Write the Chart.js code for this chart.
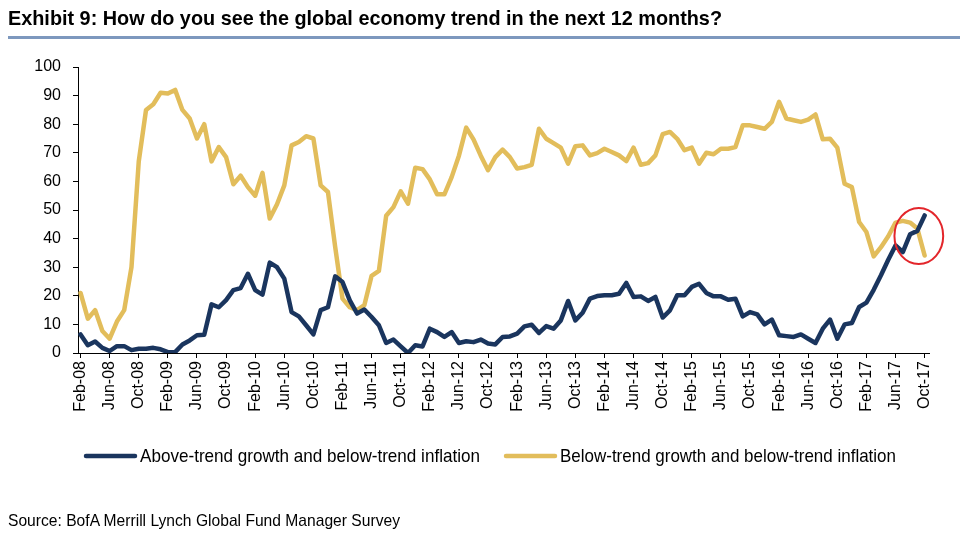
<!DOCTYPE html>
<html>
<head>
<meta charset="utf-8">
<script src="https://cdn.jsdelivr.net/npm/chart.js@4/dist/chart.umd.min.js"></script>
<style>
  html, body { margin: 0; padding: 0; background: #fff; }
  #wrap { position: relative; width: 960px; height: 543px; overflow: hidden; }
  .fit { position: absolute; left: 8px; font-family: "Liberation Sans", Arial, sans-serif; color: #000; white-space: nowrap; transform-origin: 0 50%; line-height: 1.15; }
  #title { top: 6px; font-weight: bold; font-size: 21px; }
  #rule { position: absolute; left: 8px; top: 36px; width: 952px; height: 3px; background: #7d98be; }
  #source { top: 511px; font-size: 17px; }
  #c { position: absolute; left: 0; top: 0; }
</style>
</head>
<body>
<div id="wrap">
  <canvas id="c" width="960" height="543"></canvas>
  <div id="title" class="fit" data-w="714">Exhibit 9: How do you see the global economy trend in the next 12 months?</div>
  <div id="rule"></div>
  <div id="source" class="fit" data-w="392">Source: BofA Merrill Lynch Global Fund Manager Survey</div>
</div>
<script>
const months = [
  "Feb-08","Mar-08","Apr-08","May-08","Jun-08","Jul-08","Aug-08","Sep-08","Oct-08","Nov-08","Dec-08",
  "Jan-09","Feb-09","Mar-09","Apr-09","May-09","Jun-09","Jul-09","Aug-09","Sep-09","Oct-09","Nov-09","Dec-09",
  "Jan-10","Feb-10","Mar-10","Apr-10","May-10","Jun-10","Jul-10","Aug-10","Sep-10","Oct-10","Nov-10","Dec-10",
  "Jan-11","Feb-11","Mar-11","Apr-11","May-11","Jun-11","Jul-11","Aug-11","Sep-11","Oct-11","Nov-11","Dec-11",
  "Jan-12","Feb-12","Mar-12","Apr-12","May-12","Jun-12","Jul-12","Aug-12","Sep-12","Oct-12","Nov-12","Dec-12",
  "Jan-13","Feb-13","Mar-13","Apr-13","May-13","Jun-13","Jul-13","Aug-13","Sep-13","Oct-13","Nov-13","Dec-13",
  "Jan-14","Feb-14","Mar-14","Apr-14","May-14","Jun-14","Jul-14","Aug-14","Sep-14","Oct-14","Nov-14","Dec-14",
  "Jan-15","Feb-15","Mar-15","Apr-15","May-15","Jun-15","Jul-15","Aug-15","Sep-15","Oct-15","Nov-15","Dec-15",
  "Jan-16","Feb-16","Mar-16","Apr-16","May-16","Jun-16","Jul-16","Aug-16","Sep-16","Oct-16","Nov-16","Dec-16",
  "Jan-17","Feb-17","Mar-17","Apr-17","May-17","Jun-17","Jul-17","Aug-17","Sep-17","Oct-17"
];

const tickLabels = [
  "Feb-08","Jun-08","Oct-08","Feb-09","Jun-09","Oct-09","Feb-10","Jun-10","Oct-10","Feb-11",
  "Jun-11","Oct-11","Feb-12","Jun-12","Oct-12","Feb-13","Jun-13","Oct-13","Feb-14","Jun-14",
  "Oct-14","Feb-15","Jun-15","Oct-15","Feb-16","Jun-16","Oct-16","Feb-17","Jun-17","Oct-17"
];

const yTicks = [0,10,20,30,40,50,60,70,80,90,100];

const aboveTrend = [
  6.5,2.7,4,1.8,0.7,2.4,2.4,1,1.5,1.5,1.8,
  1.3,0.3,0.3,3,4.4,6.2,6.4,17,16,18.5,22,22.7,
  27.7,22,20.4,31.6,30,26,14.3,12.8,9.7,6.5,15,16,
  26.8,24.8,18.4,13.8,15.2,12.6,9.7,3.5,4.7,2.3,0,2.7,
  2.3,8.5,7.3,5.6,7.3,3.5,4.1,3.8,4.7,3.3,3,5.6,
  5.8,6.8,9.3,9.9,7,9.4,8.5,11.4,18.2,11.4,14.1,19,
  19.9,20.2,20.2,20.7,24.5,19.6,19.8,18.2,19.6,12.4,14.9,20.2,
  20.2,23.1,24.2,21,19.8,19.8,18.6,19,12.8,14.3,13.5,10,
  11.7,6.2,5.9,5.6,6.5,5,3.5,8.5,11.7,5,10,10.5,
  16.1,17.6,22.1,27.2,32.6,37.6,35.3,41.5,42.7,48.1
];

const belowTrend = [
  21,12,15,7.7,5,11,15,30,67,85,87,
  91,90.7,92,85,82,75,80,67,72,68.5,59,62,
  58,55,63,47,52,58.6,72.6,73.8,75.8,75,58.6,56.3,
  37,19,16,15,16.7,27,28.7,48,51,56.5,52.2,64.8,
  64.3,60.7,55.5,55.5,61.5,69,78.8,74.7,69,63.9,68.5,71.1,
  68.5,64.5,65,65.8,78.4,74.9,73.4,71.8,66.2,72.3,72.6,69.1,
  69.9,71.4,70.3,69.1,67.1,71.8,65.8,66.4,69.1,76.5,77.3,74.9,
  70.9,71.8,66.2,70,69.5,71.4,71.4,72,79.6,79.6,79,78.4,
  80.8,87.8,82,81.4,80.8,81.6,83.4,74.7,74.9,71.8,59.2,58,
  45.8,42.3,33.8,37,40.8,45.6,46.2,45.6,43.5,34.1
];

const seriesNames = ["Above-trend growth and below-trend inflation", "Below-trend growth and below-trend inflation"];
const NAVY = "#1a355e";
const GOLD = "#e2bd5b";
const REG = '"Liberation Sans", Arial, sans-serif';

// fit HTML texts to the reference widths (narrow typeface look)
document.querySelectorAll('.fit').forEach(el => {
  const w = el.getBoundingClientRect().width;
  el.style.transform = 'scaleX(' + (parseFloat(el.dataset.w) / w) + ')';
});

const toXY = arr => arr.map((v, i) => ({x: i, y: v}));

const circlePlugin = {
  id: 'circle',
  afterDatasetsDraw(chart) {
    const xs = chart.scales.x, ys = chart.scales.y;
    const cx = xs.getPixelForValue(115.2);
    const cy = ys.getPixelForValue(40.9);
    const rx = (xs.getPixelForValue(1) - xs.getPixelForValue(0)) * 3.35;
    const ry = ys.getPixelForValue(0) - ys.getPixelForValue(9.8);
    const ctx = chart.ctx;
    ctx.save();
    ctx.beginPath();
    ctx.ellipse(cx, cy, rx, ry, 0, 0, Math.PI * 2);
    ctx.strokeStyle = "#e3262b";
    ctx.lineWidth = 2;
    ctx.stroke();
    ctx.restore();
  }
};

// legend drawn from the datasets, with a condensed text look
const legendPlugin = {
  id: 'narrowLegend',
  afterDraw(chart) {
    const ctx = chart.ctx;
    const sets = chart.data.datasets;
    const textW = [340, 336];
    const boxW = 53, gap = 3, spacing = 24;
    const total = sets.reduce((s, d, i) => s + boxW + gap + textW[i], 0) + spacing * (sets.length - 1);
    let x = 490 - total / 2;
    const y = 456;
    ctx.save();
    ctx.font = '19px ' + REG;
    ctx.textBaseline = 'middle';
    ctx.fillStyle = '#000';
    sets.forEach((d, i) => {
      ctx.beginPath();
      ctx.moveTo(x + 2, y);
      ctx.lineTo(x + boxW - 2, y);
      ctx.strokeStyle = d.borderColor;
      ctx.lineWidth = 4.5;
      ctx.lineCap = 'round';
      ctx.stroke();
      const tx = x + boxW + gap;
      const mw = ctx.measureText(d.label).width;
      ctx.save();
      ctx.translate(tx, y);
      ctx.scale(textW[i] / mw, 1);
      ctx.fillText(d.label, 0, 1);
      ctx.restore();
      x = tx + textW[i] + spacing;
    });
    ctx.restore();
  }
};

new Chart(document.getElementById('c'), {
  type: 'line',
  data: {
    datasets: [
      { label: seriesNames[0], data: toXY(aboveTrend), borderColor: NAVY, backgroundColor: NAVY, borderWidth: 4.5, pointRadius: 0, tension: 0, borderJoinStyle: 'round', borderCapStyle: 'round' },
      { label: seriesNames[1], data: toXY(belowTrend), borderColor: GOLD, backgroundColor: GOLD, borderWidth: 4.5, pointRadius: 0, tension: 0, borderJoinStyle: 'round', borderCapStyle: 'round' }
    ]
  },
  options: {
    responsive: false,
    animation: false,
    events: [],
    layout: { padding: { top: 67, left: 0, right: 31, bottom: 120 } },
    plugins: {
      title: { display: false },
      tooltip: { enabled: false },
      legend: { display: false }
    },
    scales: {
      x: {
        type: 'linear',
        min: -0.35,
        max: 116.6,
        afterBuildTicks: s => { s.ticks = tickLabels.map(l => ({ value: months.indexOf(l) })); },
        afterFit: s => { s.height = 70; s.paddingLeft = 0; s.paddingRight = 0; },
        grid: { drawOnChartArea: false, drawTicks: true, tickLength: 5, tickColor: '#000', tickWidth: 1 },
        border: { display: true, color: '#000', width: 1 },
        ticks: {
          autoSkip: false,
          minRotation: 90,
          maxRotation: 90,
          padding: 3,
          color: '#000',
          font: { family: REG, size: 16 },
          callback: v => months[v]
        }
      },
      y: {
        min: 0,
        max: 100,
        afterBuildTicks: s => { s.ticks = yTicks.map(v => ({ value: v })); },
        afterFit: s => { s.width = 78; s.paddingTop = 0; s.paddingBottom = 0; },
        grid: { drawOnChartArea: false, drawTicks: true, tickLength: 5, tickColor: '#000', tickWidth: 1 },
        border: { display: true, color: '#000', width: 1 },
        ticks: {
          padding: 12,
          color: '#000',
          font: { family: REG, size: 16 }
        }
      }
    }
  },
  plugins: [circlePlugin, legendPlugin]
});
</script>
</body>
</html>
